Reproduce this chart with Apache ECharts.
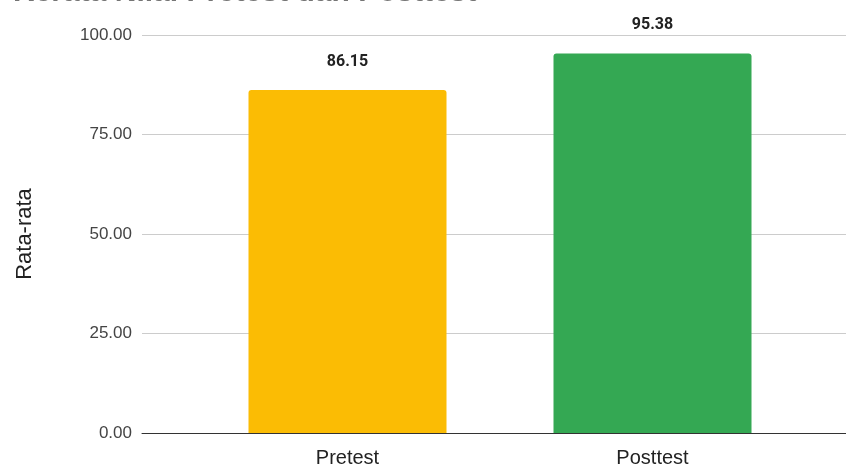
<!DOCTYPE html>
<html>
<head>
<meta charset="utf-8">
<script src="https://cdn.jsdelivr.net/npm/echarts@6/dist/echarts.min.js"></script>
<style>
  html, body { margin: 0; padding: 0; background: #fff; }
  #main { width: 846px; height: 468px; }
</style>
</head>
<body>
<div id="main"></div>
<script>
// data
var categories = ['Pretest', 'Posttest'];
var values = [86.15, 95.38];
var colors = ['#FBBC04', '#34A853'];
var yTicks = [0, 25, 50, 75, 100];

var myChart = echarts.init(document.getElementById('main'));

var barData = [];
for (var i = 0; i < values.length; i++) {
  barData.push({ value: values[i], itemStyle: { color: colors[i] } });
}

var option = {
  animation: false,
  title: {
    text: 'Rerata Nilai Pretest dan Posttest',
    left: 8,
    top: -27,
    textStyle: { fontSize: 30, fontWeight: 'bold', color: '#757575', fontFamily: 'Arial, Liberation Sans, sans-serif' }
  },
  grid: [
    // gridlines / y axis across whole width
    { left: 142, right: 0, top: 35, bottom: 35 },
    // bars
    { left: 195, right: 41, top: 35, bottom: 35 }
  ],
  xAxis: [
    {
      gridIndex: 0, type: 'value', min: 0, max: 1,
      axisLine: { show: true, onZero: false, lineStyle: { color: '#333', width: 1 } },
      axisTick: { show: false }, axisLabel: { show: false }, splitLine: { show: false }
    },
    {
      gridIndex: 1, type: 'category', data: categories,
      axisLine: { show: false }, axisTick: { show: false },
      axisLabel: { fontSize: 20, color: '#222', margin: 15, fontFamily: 'Arial, Liberation Sans, sans-serif' }
    }
  ],
  yAxis: [
    {
      gridIndex: 0, type: 'value', min: yTicks[0], max: yTicks[yTicks.length - 1], interval: 25,
      name: 'Rata-rata', nameLocation: 'middle', nameGap: 106,
      nameTextStyle: { fontSize: 22, color: '#222', fontFamily: 'Arial, Liberation Sans, sans-serif' },
      axisLine: { show: false }, axisTick: { show: false },
      axisLabel: {
        margin: 10, fontSize: 17, color: '#444', fontFamily: 'Arial, Liberation Sans, sans-serif',
        formatter: function (v) { return v.toFixed(2); }
      },
      splitLine: { lineStyle: { color: '#ccc', width: 1 } }
    },
    {
      gridIndex: 1, type: 'value', min: 0, max: 100, interval: 25,
      axisLine: { show: false }, axisTick: { show: false }, axisLabel: { show: false }, splitLine: { show: false }
    }
  ],
  series: [
    {
      type: 'bar',
      xAxisIndex: 1,
      yAxisIndex: 1,
      barWidth: 198,
      data: barData,
      itemStyle: { borderRadius: [3, 3, 0, 0] },
      label: {
        show: true, position: 'top', distance: 20,
        fontSize: 16, fontWeight: 'bold', color: '#222', fontFamily: 'Roboto, Arial, sans-serif',
        formatter: function (p) { return p.value.toFixed(2); }
      },
      z: 3
    }
  ]
};

myChart.setOption(option);
</script>
</body>
</html>
